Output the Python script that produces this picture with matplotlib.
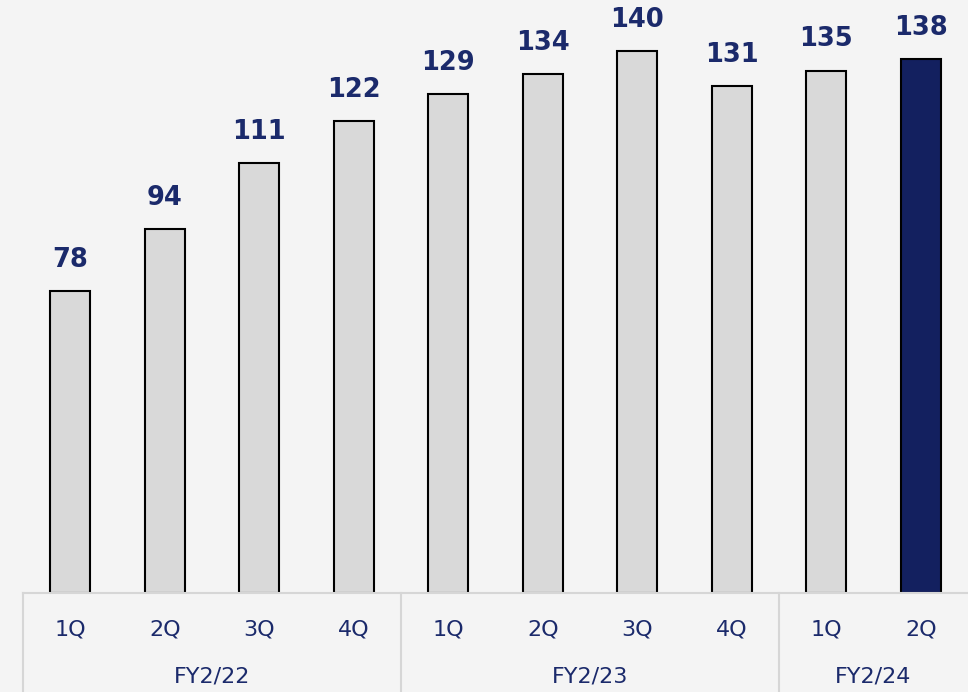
import matplotlib
matplotlib.use("Agg")
import matplotlib.pyplot as plt
import matplotlib.transforms as mtransforms

quarters = ["1Q", "2Q", "3Q", "4Q", "1Q", "2Q", "3Q", "4Q", "1Q", "2Q"]
values = [78, 94, 111, 122, 129, 134, 140, 131, 135, 138]
years = ["FY2/22", "FY2/23", "FY2/24"]
year_spans = [(0, 3), (4, 7), (8, 9)]

bg = "#f4f4f4"
navy = "#1b2a6b"
bar_gray = "#d9d9d9"
bar_navy = "#13205f"
line_gray = "#d6d6d6"

fig = plt.figure(figsize=(9.68, 6.92), dpi=100, facecolor=bg)
ax = fig.add_axes([23 / 968, 1 - 593 / 692, 1 - 23 / 968, 593 / 692])
ax.set_facecolor(bg)

x = list(range(len(values)))
colors = [bar_gray] * (len(values) - 1) + [bar_navy]
ax.bar(x, values, width=0.42, color=colors, edgecolor="black", linewidth=1.5, zorder=3)

for xi, v in zip(x, values):
    ax.annotate(str(v), xy=(xi, v), xytext=(0, 13), textcoords="offset points",
                ha="center", va="bottom", fontsize=18.5, fontweight="bold",
                color=navy, family="DejaVu Sans")

ax.set_xlim(-0.5, len(values) - 0.5)
ax.set_ylim(0, 593 / 3.87)
ax.axis("off")

trans = mtransforms.blended_transform_factory(ax.transData, fig.transFigure)
# horizontal table line
ax.plot([-0.5, len(values) - 0.5], [1 - 593 / 692] * 2, color=line_gray, lw=1.5,
        transform=trans, clip_on=False, zorder=4)
# vertical separators (no right border)
seps = [year_spans[0][0] - 0.5] + [e + 0.5 for s, e in year_spans[:-1]]
for xb in seps:
    ax.plot([xb, xb], [0, 1 - 593 / 692], color=line_gray, lw=1.5,
            transform=trans, clip_on=False, zorder=4)

for xi, q in zip(x, quarters):
    ax.text(xi, 1 - 630 / 692, q, transform=trans, ha="center", va="center",
            fontsize=16, color=navy)

for (s, e), yl in zip(year_spans, years):
    ax.text((s + e) / 2, 1 - 677 / 692, yl, transform=trans, ha="center", va="center",
            fontsize=16, color=navy)

fig.savefig("out.png", dpi=100, facecolor=bg)
